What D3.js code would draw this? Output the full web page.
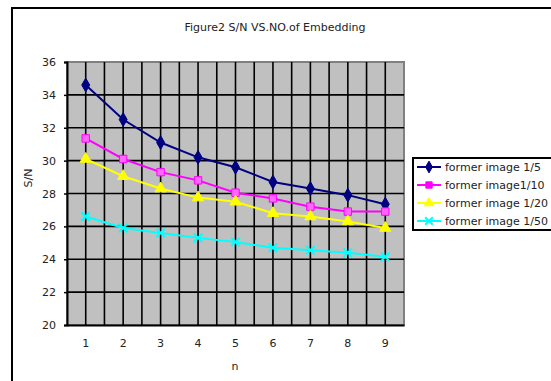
<!DOCTYPE html>
<html>
<head>
<meta charset="utf-8">
<script src="https://cdn.jsdelivr.net/npm/d3@7"></script>
<style>
  body { margin: 0; background: #fff; }
  text { font-family: "DejaVu Sans", "Liberation Sans", sans-serif; fill: #222; }
</style>
</head>
<body>
<svg width="551" height="381"></svg>
<script>
var categories = [1, 2, 3, 4, 5, 6, 7, 8, 9];
var yTicks = [20, 22, 24, 26, 28, 30, 32, 34, 36];

var s1 = [34.6, 32.5, 31.1, 30.2, 29.6, 28.7, 28.3, 27.9, 27.35];
var s2 = [31.35, 30.1, 29.3, 28.8, 28.05, 27.7, 27.2, 26.9, 26.9];
var s3 = [30.1, 29.05, 28.3, 27.75, 27.5, 26.8, 26.6, 26.3, 25.9];
var s4 = [26.6, 25.9, 25.6, 25.3, 25.05, 24.7, 24.55, 24.4, 24.15];

var seriesNames = ["former image 1/5", "former image1/10", "former image 1/20", "former image 1/50"];
var seriesColors = ["#000080", "#ff00ff", "#ffff00", "#00ffff"];
var seriesShapes = [d3.symbolDiamond, d3.symbolSquare, d3.symbolTriangle, d3.symbolTimes];
var series = [s1, s2, s3, s4];

var svg = d3.select("svg");

// outer chart frame (runs off the right and bottom edges)
svg.append("rect")
	.attr("x", 12).attr("y", 8)
	.attr("width", 600).attr("height", 400)
	.attr("fill", "none")
	.attr("stroke", "#000")
	.attr("stroke-width", 2);

svg.append("text")
	.attr("x", 275).attr("y", 31)
	.attr("text-anchor", "middle")
	.style("font-size", "11px")
	.text("Figure2 S/N VS.NO.of Embedding");

var plot = { left: 67, top: 62, right: 404, bottom: 325 };

var x = d3.scaleBand()
	.domain(categories)
	.range([plot.left, plot.right]);
var y = d3.scaleLinear()
	.domain([20, 36])
	.range([plot.bottom, plot.top]);

// plot area
svg.append("rect")
	.attr("x", plot.left).attr("y", plot.top)
	.attr("width", plot.right - plot.left).attr("height", plot.bottom - plot.top)
	.attr("fill", "#c0c0c0")
	.attr("stroke", "#808080")
	.attr("stroke-width", 2);

var grid = svg.append("g").attr("class", "grid");

// vertical gridlines: category boundaries and centres
var vlines = [];
categories.forEach(function(c) {
	vlines.push(x(c));
	vlines.push(x(c) + x.bandwidth() / 2);
});
grid.selectAll("line.v")
	.data(vlines.slice(1))
	.enter().append("line")
	.attr("class", "v")
	.attr("x1", function(d) { return d; }).attr("x2", function(d) { return d; })
	.attr("y1", plot.top).attr("y2", plot.bottom)
	.attr("stroke", "#000").attr("stroke-width", 1.6);

grid.selectAll("line.h")
	.data(yTicks.slice(1, -1))
	.enter().append("line")
	.attr("class", "h")
	.attr("x1", plot.left).attr("x2", plot.right)
	.attr("y1", function(d) { return y(d); }).attr("y2", function(d) { return y(d); })
	.attr("stroke", "#000").attr("stroke-width", 1.6);

// axes
var yAxis = svg.append("g")
	.attr("transform", "translate(" + plot.left + ",0)")
	.call(d3.axisLeft(y).tickValues(yTicks).tickSize(3).tickPadding(8));
var xAxis = svg.append("g")
	.attr("transform", "translate(0," + plot.bottom + ")")
	.call(d3.axisBottom(x).tickSize(0).tickPadding(14));
[yAxis, xAxis].forEach(function(a) {
	a.select(".domain").attr("stroke", "#000").attr("stroke-width", 2);
	a.selectAll(".tick line").attr("stroke", "#000").attr("stroke-width", 1.5);
	a.selectAll("text").style("font-size", "11px").style("font-family", "DejaVu Sans, sans-serif").attr("fill", "#222");
});

svg.append("text")
	.attr("transform", "translate(32,178) rotate(-90)")
	.attr("text-anchor", "middle")
	.style("font-size", "11px")
	.text("S/N");
svg.append("text")
	.attr("x", 235).attr("y", 370)
	.attr("text-anchor", "middle")
	.style("font-size", "11px")
	.text("n");

// series
var line = d3.line()
	.x(function(d, i) { return x(categories[i]) + x.bandwidth() / 2; })
	.y(function(d) { return y(d); });

series.forEach(function(s, k) {
	var g = svg.append("g");
	g.append("path")
		.datum(s)
		.attr("d", line)
		.attr("fill", "none")
		.attr("stroke", seriesColors[k])
		.attr("stroke-width", 2);
	g.selectAll("path.pt")
		.data(s)
		.enter().append("path")
		.attr("class", "pt")
		.attr("transform", function(d, i) { return "translate(" + (x(categories[i]) + x.bandwidth() / 2) + "," + y(d) + ")"; })
		.attr("d", d3.symbol().type(seriesShapes[k]).size(k == 3 ? 50 : 55))
		.attr("fill", k == 1 ? "#ff66ff" : seriesColors[k])
		.attr("stroke", seriesColors[k])
		.attr("stroke-width", k == 3 ? 2 : 1);
});

// legend
var legend = svg.append("g").attr("transform", "translate(413,158)");
legend.append("rect")
	.attr("width", 200).attr("height", 72)
	.attr("fill", "#fff")
	.attr("stroke", "#000")
	.attr("stroke-width", 2);
var items = legend.selectAll("g.item")
	.data(seriesNames)
	.enter().append("g")
	.attr("class", "item")
	.attr("transform", function(d, i) { return "translate(0," + (9 + i * 18) + ")"; });
items.append("line")
	.attr("x1", 4).attr("x2", 28)
	.attr("stroke", function(d, i) { return seriesColors[i]; })
	.attr("stroke-width", 2);
items.append("path")
	.attr("transform", "translate(16,0)")
	.attr("d", function(d, i) { return d3.symbol().type(seriesShapes[i]).size(40)(); })
	.attr("fill", function(d, i) { return seriesColors[i]; })
	.attr("stroke", function(d, i) { return seriesColors[i]; })
	.attr("stroke-width", function(d, i) { return i == 3 ? 2 : 1; });
items.append("text")
	.attr("x", 32).attr("y", 4)
	.style("font-size", "11px")
	.text(function(d) { return d; });
</script>
</body>
</html>
